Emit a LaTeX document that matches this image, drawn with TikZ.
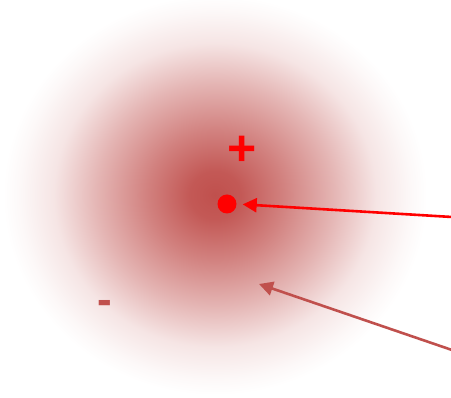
\documentclass[tikz,border=0pt]{standalone}
\usepackage{fontspec}
\setmainfont{Liberation Sans}
\usetikzlibrary{arrows.meta}
\definecolor{glowred}{RGB}{192,80,77}
\definecolor{pure}{RGB}{255,0,0}
\pgfdeclareradialshading{glow}{\pgfpoint{0bp}{0bp}}{%
  color(0bp)=(glowred);
  color(3bp)=(glowred!95!white);
  color(8bp)=(glowred!72!white);
  color(14bp)=(glowred!42!white);
  color(19bp)=(glowred!15!white);
  color(23bp)=(glowred!4!white);
  color(25bp)=(white);
  color(50bp)=(white)}
\tikzset{
  sign/.style={font=\bfseries\fontsize{50}{50}\selectfont, inner sep=0pt},
  pointer/.style={line width=2.6pt, -{Triangle[length=14pt,width=14pt]}},
}
\begin{document}
\begin{tikzpicture}[x=1pt,y=-1pt]
\useasboundingbox (0,0) rectangle (451,398);
\shade[shading=glow] (215,195) ellipse (212 and 200);
\node[sign, text=pure] (plus) at (242,151) {+};
\node[sign, text=glowred, font=\bfseries\fontsize{44}{44}\selectfont] (minus) at (105,307) {-};
\node[circle, fill=pure, minimum size=19pt, inner sep=0pt] (dot) at (227,204) {};
\coordinate (s1) at (452,217);
\coordinate (s2) at (452,350);
\coordinate (t2) at (259,284);
\draw[pointer, draw=pure, fill=pure, shorten >=6pt] (s1) -- (dot.east);
\draw[pointer, draw=glowred, fill=glowred] (s2) -- (t2);
\end{tikzpicture}
\end{document}
